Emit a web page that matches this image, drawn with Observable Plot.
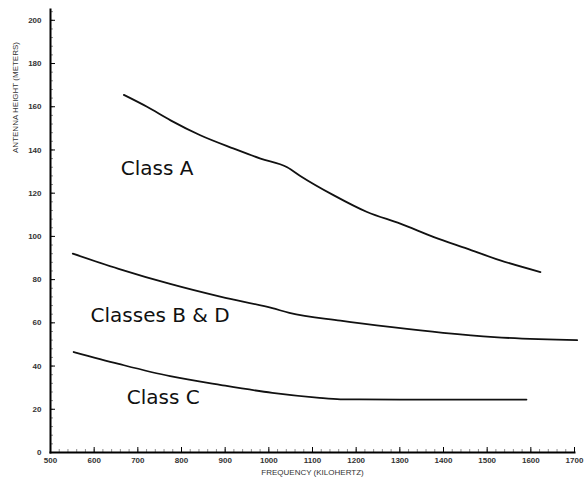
<!DOCTYPE html>
<html>
<head>
<meta charset="utf-8">
<script src="https://cdn.jsdelivr.net/npm/d3@7"></script>
<script src="https://cdn.jsdelivr.net/npm/@observablehq/plot@0.6"></script>
<style>
  html, body { margin: 0; padding: 0; background: #fff; }
  #chart svg { display: block; }
</style>
</head>
<body>
<div id="chart"></div>
<script>
// Class A
const freqA = [668, 721, 775, 843, 920, 981, 1042, 1072, 1149, 1225, 1301, 1378, 1454, 1530, 1622];
const heightA = [165.5, 160, 153.7, 146.8, 140.6, 136, 132, 128, 119, 111.3, 105.9, 99.7, 94.3, 88.9, 83.5];
// Classes B & D
const freqBD = [551, 656, 774, 891, 1008, 1047, 1164, 1282, 1399, 1516, 1706];
const heightBD = [92, 85, 78, 72, 66.8, 64.6, 61, 58, 55.4, 53.4, 52];
// Class C
const freqC = [553, 656, 774, 891, 1008, 1110, 1164, 1300, 1450, 1590];
const heightC = [46.5, 41, 35.3, 31.2, 27.6, 25.4, 24.6, 24.5, 24.5, 24.5];

const seriesNames = ["Class A", "Classes B & D", "Class C"];
const labelFreq = [744, 751, 758];
const labelHeight = [131.5, 63.4, 25.5];

const xTicks = [500, 600, 700, 800, 900, 1000, 1100, 1200, 1300, 1400, 1500, 1600, 1700];
const yTicks = [0, 20, 40, 60, 80, 100, 120, 140, 160, 180, 200];
const xTitle = "FREQUENCY (KILOHERTZ)";
const yTitle = "ANTENNA HEIGHT (METERS)";

const rows = (fs, hs, s) => fs.map((f, i) => ({freq: f, height: hs[i], series: s}));
const data = [
  ...rows(freqA, heightA, seriesNames[0]),
  ...rows(freqBD, heightBD, seriesNames[1]),
  ...rows(freqC, heightC, seriesNames[2])
];
const labels = seriesNames.map((s, i) => ({name: s, freq: labelFreq[i], height: labelHeight[i]}));

const tickFont = "Liberation Sans, Arial, sans-serif";
const fmt = d => String(d);

const chart = Plot.plot({
  width: 585,
  height: 490,
  marginLeft: 50,
  marginRight: 11,
  marginTop: 9,
  marginBottom: 38,
  style: {background: "#fff", fontFamily: tickFont},
  x: {domain: [500, 1700]},
  y: {domain: [0, 205]},
  marks: [
    // minor ticks (inside)
    Plot.axisY(d3.range(0, 205, 4), {anchor: "left", tickSize: -3, text: null, strokeOpacity: 0.45, label: null}),
    Plot.axisX(d3.range(500, 1701, 20), {anchor: "bottom", tickSize: -3, text: null, strokeOpacity: 0.45, label: null}),
    // major ticks with labels
    Plot.axisY(yTicks, {anchor: "left", tickSize: -5, tickPadding: 14, tickFormat: fmt, fontSize: 8, fontWeight: "bold", fill: "#333", label: null}),
    Plot.axisX(xTicks, {anchor: "bottom", tickSize: -5, tickPadding: 10, tickFormat: fmt, fontSize: 8, fontWeight: "bold", fill: "#333", label: null}),
    Plot.frame({anchor: "left", strokeWidth: 2}),
    Plot.frame({anchor: "bottom", strokeWidth: 2}),
    Plot.line(data, {x: "freq", y: "height", z: "series", curve: "monotone-x", stroke: "#111", strokeWidth: 1.8}),
    Plot.text(labels, {x: "freq", y: "height", text: "name", fontSize: 20, fontFamily: "DejaVu Sans, sans-serif", fill: "#111"}),
    Plot.text([yTitle], {frameAnchor: "top-left", textAnchor: "middle", dx: -38, dy: 88, rotate: -90, fontSize: 8, fill: "#333"}),
    Plot.text([xTitle], {frameAnchor: "bottom", textAnchor: "middle", dy: 22, fontSize: 8, fill: "#333"})
  ]
});
document.getElementById("chart").appendChild(chart);
</script>
</body>
</html>
